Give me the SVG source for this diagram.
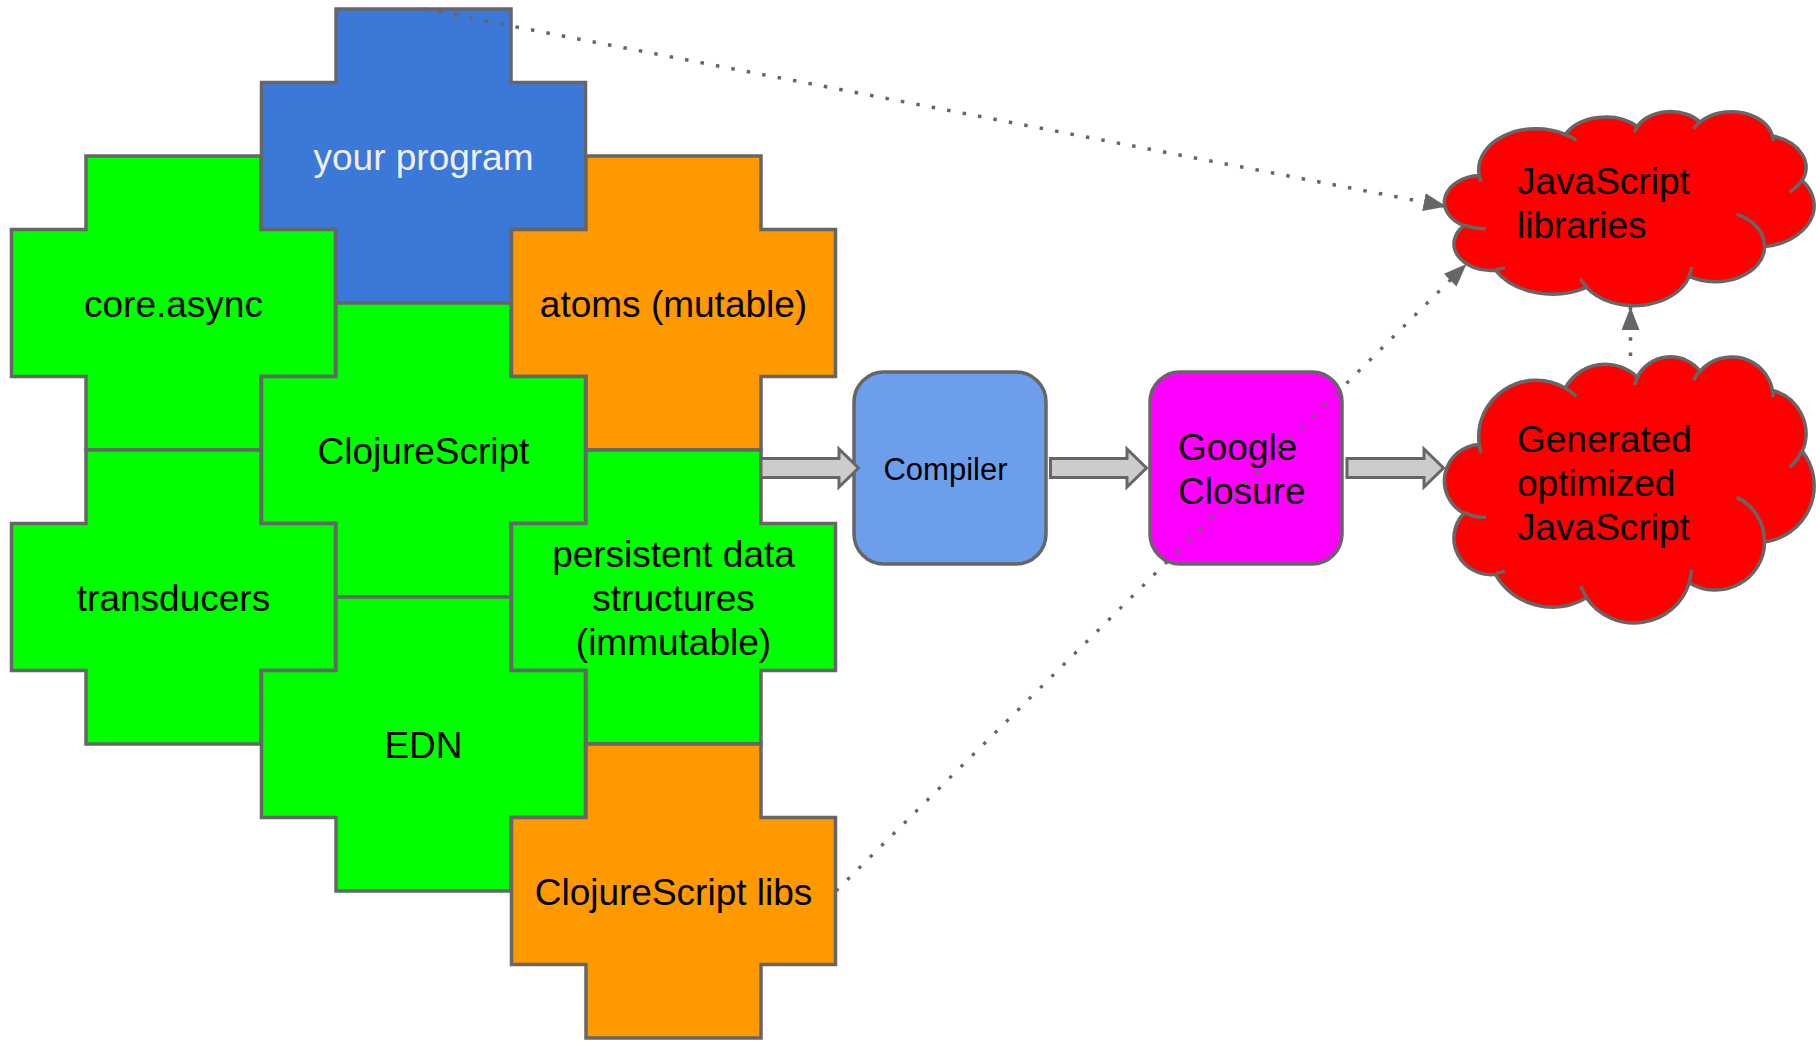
<svg xmlns="http://www.w3.org/2000/svg" xmlns:xlink="http://www.w3.org/1999/xlink" width="1816" height="1044" viewBox="0 0 1816 1044">
<style>
.cross{stroke:#666666;stroke-width:3.5;stroke-linejoin:miter}
.lbl{font-family:"Liberation Sans",Arial,sans-serif;font-size:37px;fill:#000000;text-anchor:middle}
.lbls{font-family:"Liberation Sans",Arial,sans-serif;font-size:37px;fill:#000000}
.box{stroke:#666666;stroke-width:3.5}
.cl{fill:#ff0000;stroke:#666666;stroke-width:3.5}
.ci{fill:none;stroke:#666666;stroke-width:3.5}
.barrow{fill:#cccccc;stroke:#666666;stroke-width:3;stroke-linejoin:miter}
.dot{fill:none;stroke:#666666}
</style>
<defs>
<path id="cross" d="M0,0 h175 v73.5 h74.5 v147 h-74.5 v73.5 h-175 v-73.5 h-74.5 v-147 h74.5 z"/>
<path id="cloudOut" vector-effect="non-scaling-stroke" d="M3900 14370 A6753 9190 0 0 1 14005 5202 A5333 7267 0 0 1 22456 3432 A4365 5945 0 0 1 29833 2480 A4857 6595 0 0 1 38318 5576 A5333 7273 0 0 1 41818 15459 A6775 9220 0 0 1 37403 30200 A5785 7867 0 0 1 28554 36810 A6752 9215 0 0 1 16479 39261 A7720 10543 0 0 1 5803 35467 A4360 5918 0 0 1 2110 25547 A4345 5945 0 0 1 3900 14370 Z"/>
<path id="cloudIn" vector-effect="non-scaling-stroke" d="M4693 26177 A4345 5945 0 0 1 2160 25380 M6928 34899 A4360 5918 0 0 1 5820 35281 M16478 39090 A6752 9215 0 0 1 15810 37350 M28827 34751 A6752 9215 0 0 1 28560 36660 M34129 22954 A5785 7867 0 0 1 37380 30089 M41798 15354 A5333 7273 0 0 1 40349 18032 M38324 5426 A4857 6595 0 0 1 38400 6690 M29078 3952 A4857 6595 0 0 1 29820 2340 M22141 4720 A4365 5945 0 0 1 22500 3330 M14000 5192 A6753 9190 0 0 1 15305 6551 M4127 15789 A6753 9190 0 0 1 3900 14371"/>
<marker id="ah" viewBox="0 0 23 18" refX="23" refY="9" markerWidth="23" markerHeight="18" markerUnits="userSpaceOnUse" orient="auto">
<path d="M0,0 L23,9 L0,18 Z" fill="#666666" stroke="none"/>
</marker>
</defs>
<rect x="0" y="0" width="1816" height="1044" fill="#ffffff"/>

<g id="node-your-program">
<use href="#cross" x="336" y="9" class="cross" fill="#3c78d8"/>
<text x="423.5" y="170" class="lbl" style="fill:#efefef">your program</text>
</g>
<g id="node-core-async">
<use href="#cross" x="86" y="156" class="cross" fill="#00ff00"/>
<text x="173.5" y="317" class="lbl">core.async</text>
</g>
<g id="node-atoms">
<use href="#cross" x="586" y="156" class="cross" fill="#ff9900"/>
<text x="673.5" y="317" class="lbl">atoms (mutable)</text>
</g>
<g id="node-clojurescript">
<use href="#cross" x="336" y="303" class="cross" fill="#00ff00"/>
<text x="423.5" y="464" class="lbl">ClojureScript</text>
</g>
<g id="node-transducers">
<use href="#cross" x="86" y="450" class="cross" fill="#00ff00"/>
<text x="173.5" y="611" class="lbl">transducers</text>
</g>
<g id="node-persistent">
<use href="#cross" x="586" y="450" class="cross" fill="#00ff00"/>
<text class="lbl"><tspan x="673.5" y="567">persistent data</tspan><tspan x="673.5" y="611">structures</tspan><tspan x="673.5" y="655">(immutable)</tspan></text>
</g>
<g id="node-edn">
<use href="#cross" x="336" y="597" class="cross" fill="#00ff00"/>
<text x="423.5" y="758" class="lbl">EDN</text>
</g>
<g id="node-cljs-libs">
<use href="#cross" x="586" y="744" class="cross" fill="#ff9900"/>
<text x="673.5" y="905" class="lbl">ClojureScript libs</text>
</g>

<g id="node-compiler">
<rect x="854" y="372" width="192" height="192" rx="30" ry="30" class="box" fill="#6d9eeb"/>
<text x="945.5" y="480" class="lbl" style="font-size:31px">Compiler</text>
</g>
<g id="node-google-closure">
<rect x="1150" y="372" width="192" height="192" rx="30" ry="30" class="box" fill="#ff00ff"/>
<text class="lbls"><tspan x="1178" y="460">Google</tspan><tspan x="1178" y="504">Closure</tspan></text>
</g>
<g id="node-js-libraries">
<g transform="translate(1446,111) scale(0.0085185,0.0044907)">
<use href="#cloudOut" class="cl"/>
<use href="#cloudIn" class="ci"/>
</g>
<text class="lbls"><tspan x="1517" y="194">JavaScript</tspan><tspan x="1517" y="238">libraries</tspan></text>
</g>
<g id="node-generated-js">
<g transform="translate(1446,356) scale(0.0085185,0.0061574)">
<use href="#cloudOut" class="cl"/>
<use href="#cloudIn" class="ci"/>
</g>
<text class="lbls"><tspan x="1517" y="452">Generated</tspan><tspan x="1517" y="496">optimized</tspan><tspan x="1517" y="540">JavaScript</tspan></text>
</g>

<g id="connectors">
<path class="barrow" d="M761,458.5 H839 V449 L858.5,468 L839,487 V477.5 H761 Z"/>
<path class="barrow" d="M1050.5,458.5 H1127 V449 L1146.5,468 L1127,487 V477.5 H1050.5 Z"/>
<path class="barrow" d="M1347,458.5 H1424 V449 L1443.5,468 L1424,487 V477.5 H1347 Z"/>
<path class="dot" d="M423,9 L1446.5,206.5" stroke-width="3.5" stroke-dasharray="3.5 12.2" marker-end="url(#ah)"/>
<path class="dot" d="M836,891 L1466.5,264" stroke-width="3.3" stroke-dasharray="3.3 12.7" marker-end="url(#ah)"/>
<path class="dot" d="M1630.5,356 L1630.5,307" stroke-width="3.5" stroke-dasharray="3.5 11.8" marker-end="url(#ah)"/>
</g>
</svg>
